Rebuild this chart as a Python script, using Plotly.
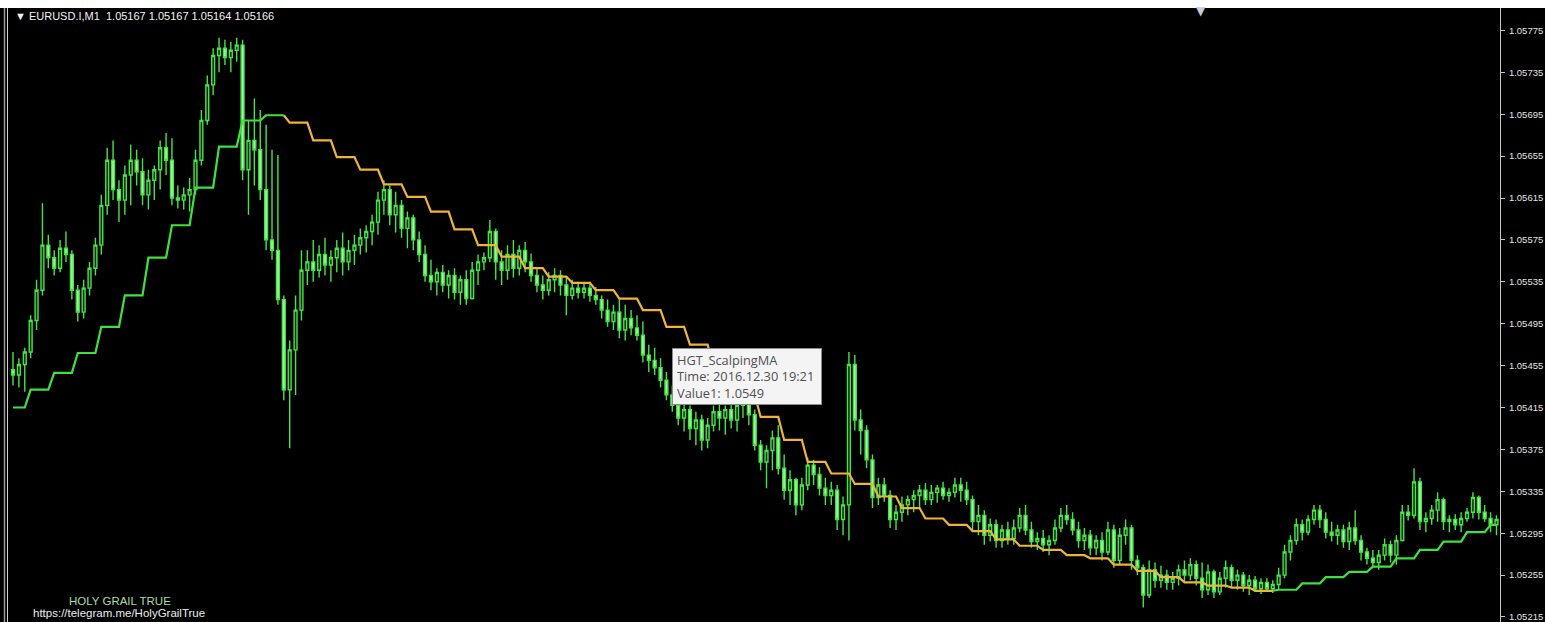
import plotly.graph_objects as go

# ---------------- text ----------------
symbol_header = "\u25BC EURUSD.I,M1\u00a0\u00a01.05167 1.05167 1.05164 1.05166"
tooltip_lines = ["HGT_ScalpingMA", "Time: 2016.12.30 19:21", "Value1: 1.0549"]
brand_text = "HOLY GRAIL TRUE"
link_text = "https://telegram.me/HolyGrailTrue"

# ---------------- M1 bars (EURUSD) ----------------
open_ = [
    1.05451, 1.05446, 1.05456, 1.05468, 1.05498, 1.05527, 1.05570, 1.05558, 1.05548, 1.05567,
    1.05561, 1.05527, 1.05506, 1.05529, 1.05548, 1.05570, 1.05608, 1.05651, 1.05623, 1.05613,
    1.05637, 1.05651, 1.05640, 1.05618, 1.05632, 1.05642, 1.05663, 1.05651, 1.05615, 1.05613,
    1.05618, 1.05623, 1.05651, 1.05689, 1.05723, 1.05751, 1.05758, 1.05749, 1.05756, 1.05761,
    1.05642, 1.05670, 1.05661, 1.05623, 1.05575, 1.05565, 1.05518, 1.05432, 1.05470, 1.05508,
    1.05546, 1.05554, 1.05546, 1.05561, 1.05551, 1.05558, 1.05567, 1.05554, 1.05565, 1.05570,
    1.05577, 1.05583, 1.05592, 1.05613, 1.05623, 1.05599, 1.05608, 1.05586, 1.05596, 1.05575,
    1.05561, 1.05541, 1.05535, 1.05544, 1.05532, 1.05541, 1.05525, 1.05537, 1.05519, 1.05546,
    1.05554, 1.05558, 1.05583, 1.05554, 1.05546, 1.05561, 1.05548, 1.05565, 1.05554, 1.05541,
    1.05532, 1.05527, 1.05537, 1.05541, 1.05532, 1.05522, 1.05529, 1.05525, 1.05529, 1.05522,
    1.05518, 1.05508, 1.05497, 1.05506, 1.05489, 1.05500, 1.05491, 1.05484, 1.05465, 1.05460,
    1.05453, 1.05441, 1.05427, 1.05417, 1.05405, 1.05413, 1.05395, 1.05403, 1.05384, 1.05398,
    1.05411, 1.05405, 1.05413, 1.05403, 1.05417, 1.05422, 1.05408, 1.05379, 1.05363, 1.05374,
    1.05386, 1.05357, 1.05336, 1.05346, 1.05322, 1.05341, 1.05360, 1.05351, 1.05338, 1.05331,
    1.05336, 1.05308, 1.05322, 1.05456, 1.05403, 1.05393, 1.05365, 1.05329, 1.05341, 1.05331,
    1.05308, 1.05315, 1.05322, 1.05327, 1.05331, 1.05336, 1.05327, 1.05334, 1.05338, 1.05331,
    1.05334, 1.05341, 1.05336, 1.05327, 1.05306, 1.05312, 1.05293, 1.05303, 1.05288, 1.05298,
    1.05290, 1.05300, 1.05312, 1.05298, 1.05287, 1.05290, 1.05284, 1.05288, 1.05300, 1.05312,
    1.05308, 1.05298, 1.05288, 1.05293, 1.05281, 1.05288, 1.05277, 1.05298, 1.05269, 1.05293,
    1.05300, 1.05269, 1.05262, 1.05236, 1.05260, 1.05250, 1.05255, 1.05248, 1.05252, 1.05260,
    1.05255, 1.05265, 1.05252, 1.05241, 1.05258, 1.05239, 1.05252, 1.05262, 1.05250, 1.05255,
    1.05245, 1.05250, 1.05242, 1.05248, 1.05242, 1.05246, 1.05255, 1.05277, 1.05288, 1.05303,
    1.05296, 1.05308, 1.05317, 1.05308, 1.05296, 1.05293, 1.05298, 1.05287, 1.05300, 1.05288,
    1.05277, 1.05271, 1.05267, 1.05274, 1.05284, 1.05274, 1.05288, 1.05315, 1.05312, 1.05344,
    1.05306, 1.05309, 1.05317, 1.05327, 1.05306, 1.05308, 1.05303, 1.05309, 1.05315, 1.05329,
    1.05315, 1.05309, 1.05303,
]
high = [
    1.05468, 1.05462, 1.05472, 1.05503, 1.05537, 1.05610, 1.05580, 1.05565, 1.05575, 1.05583,
    1.05565, 1.05532, 1.05537, 1.05554, 1.05577, 1.05618, 1.05663, 1.05670, 1.05632, 1.05646,
    1.05666, 1.05661, 1.05653, 1.05642, 1.05646, 1.05670, 1.05677, 1.05672, 1.05627, 1.05625,
    1.05634, 1.05661, 1.05699, 1.05732, 1.05758, 1.05768, 1.05766, 1.05764, 1.05768, 1.05766,
    1.05689, 1.05710, 1.05699, 1.05685, 1.05661, 1.05656, 1.05522, 1.05479, 1.05522, 1.05565,
    1.05565, 1.05575, 1.05570, 1.05577, 1.05565, 1.05575, 1.05582, 1.05575, 1.05580, 1.05586,
    1.05589, 1.05599, 1.05621, 1.05632, 1.05627, 1.05621, 1.05613, 1.05602, 1.05599, 1.05583,
    1.05570, 1.05556, 1.05548, 1.05551, 1.05546, 1.05548, 1.05541, 1.05546, 1.05554, 1.05561,
    1.05563, 1.05594, 1.05586, 1.05565, 1.05570, 1.05575, 1.05570, 1.05573, 1.05562, 1.05548,
    1.05541, 1.05544, 1.05548, 1.05546, 1.05539, 1.05537, 1.05535, 1.05534, 1.05535, 1.05530,
    1.05522, 1.05518, 1.05513, 1.05518, 1.05513, 1.05508, 1.05503, 1.05497, 1.05475, 1.05472,
    1.05462, 1.05449, 1.05436, 1.05424, 1.05420, 1.05417, 1.05411, 1.05408, 1.05405, 1.05417,
    1.05422, 1.05417, 1.05424, 1.05422, 1.05430, 1.05432, 1.05413, 1.05384, 1.05379, 1.05393,
    1.05398, 1.05370, 1.05355, 1.05348, 1.05348, 1.05367, 1.05365, 1.05358, 1.05348, 1.05344,
    1.05341, 1.05330, 1.05468, 1.05465, 1.05413, 1.05398, 1.05370, 1.05348, 1.05348, 1.05336,
    1.05322, 1.05330, 1.05331, 1.05336, 1.05341, 1.05343, 1.05341, 1.05341, 1.05344, 1.05338,
    1.05348, 1.05348, 1.05344, 1.05331, 1.05322, 1.05317, 1.05309, 1.05308, 1.05303, 1.05306,
    1.05308, 1.05319, 1.05322, 1.05306, 1.05296, 1.05298, 1.05293, 1.05308, 1.05319, 1.05322,
    1.05315, 1.05306, 1.05300, 1.05298, 1.05293, 1.05296, 1.05306, 1.05303, 1.05300, 1.05308,
    1.05303, 1.05274, 1.05265, 1.05269, 1.05267, 1.05264, 1.05260, 1.05258, 1.05265, 1.05269,
    1.05271, 1.05269, 1.05267, 1.05265, 1.05260, 1.05258, 1.05269, 1.05265, 1.05260, 1.05258,
    1.05255, 1.05254, 1.05252, 1.05252, 1.05250, 1.05262, 1.05284, 1.05293, 1.05309, 1.05308,
    1.05312, 1.05322, 1.05322, 1.05315, 1.05306, 1.05303, 1.05303, 1.05306, 1.05317, 1.05293,
    1.05281, 1.05279, 1.05279, 1.05290, 1.05288, 1.05293, 1.05322, 1.05322, 1.05357, 1.05348,
    1.05315, 1.05322, 1.05334, 1.05329, 1.05312, 1.05313, 1.05315, 1.05319, 1.05334, 1.05331,
    1.05322, 1.05315, 1.05312,
]
low = [
    1.05436, 1.05434, 1.05430, 1.05462, 1.05489, 1.05522, 1.05548, 1.05541, 1.05544, 1.05554,
    1.05518, 1.05497, 1.05500, 1.05522, 1.05541, 1.05561, 1.05599, 1.05613, 1.05592, 1.05599,
    1.05608, 1.05627, 1.05608, 1.05604, 1.05613, 1.05623, 1.05637, 1.05608, 1.05605, 1.05604,
    1.05602, 1.05618, 1.05646, 1.05685, 1.05713, 1.05735, 1.05742, 1.05735, 1.05745, 1.05632,
    1.05599, 1.05627, 1.05613, 1.05565, 1.05556, 1.05513, 1.05422, 1.05376, 1.05427, 1.05498,
    1.05532, 1.05535, 1.05539, 1.05541, 1.05535, 1.05544, 1.05541, 1.05546, 1.05551, 1.05561,
    1.05563, 1.05570, 1.05580, 1.05599, 1.05589, 1.05582, 1.05577, 1.05567, 1.05565, 1.05554,
    1.05535, 1.05527, 1.05522, 1.05525, 1.05519, 1.05518, 1.05513, 1.05513, 1.05518, 1.05532,
    1.05546, 1.05554, 1.05537, 1.05532, 1.05537, 1.05539, 1.05541, 1.05544, 1.05535, 1.05525,
    1.05518, 1.05522, 1.05525, 1.05522, 1.05503, 1.05518, 1.05519, 1.05519, 1.05516, 1.05513,
    1.05500, 1.05492, 1.05489, 1.05481, 1.05479, 1.05484, 1.05479, 1.05458, 1.05449, 1.05446,
    1.05434, 1.05422, 1.05411, 1.05398, 1.05392, 1.05384, 1.05379, 1.05374, 1.05376, 1.05392,
    1.05393, 1.05389, 1.05395, 1.05392, 1.05405, 1.05398, 1.05374, 1.05355, 1.05338, 1.05355,
    1.05351, 1.05327, 1.05322, 1.05312, 1.05317, 1.05336, 1.05341, 1.05331, 1.05322, 1.05322,
    1.05298, 1.05293, 1.05288, 1.05393, 1.05370, 1.05357, 1.05319, 1.05322, 1.05325, 1.05300,
    1.05298, 1.05306, 1.05312, 1.05315, 1.05319, 1.05322, 1.05322, 1.05324, 1.05327, 1.05325,
    1.05329, 1.05325, 1.05322, 1.05298, 1.05293, 1.05284, 1.05287, 1.05281, 1.05281, 1.05284,
    1.05284, 1.05296, 1.05293, 1.05281, 1.05279, 1.05277, 1.05274, 1.05284, 1.05296, 1.05303,
    1.05293, 1.05281, 1.05279, 1.05274, 1.05274, 1.05269, 1.05274, 1.05262, 1.05265, 1.05284,
    1.05260, 1.05255, 1.05224, 1.05233, 1.05243, 1.05243, 1.05241, 1.05241, 1.05245, 1.05248,
    1.05250, 1.05245, 1.05233, 1.05236, 1.05233, 1.05236, 1.05243, 1.05243, 1.05241, 1.05239,
    1.05236, 1.05239, 1.05237, 1.05239, 1.05238, 1.05241, 1.05252, 1.05269, 1.05284, 1.05288,
    1.05293, 1.05303, 1.05300, 1.05290, 1.05287, 1.05284, 1.05281, 1.05279, 1.05284, 1.05269,
    1.05265, 1.05262, 1.05260, 1.05269, 1.05267, 1.05265, 1.05287, 1.05307, 1.05309, 1.05298,
    1.05296, 1.05303, 1.05306, 1.05298, 1.05296, 1.05298, 1.05296, 1.05306, 1.05309, 1.05308,
    1.05306, 1.05296, 1.05293,
]
close = [
    1.05446, 1.05456, 1.05468, 1.05498, 1.05527, 1.05570, 1.05558, 1.05548, 1.05567, 1.05561,
    1.05527, 1.05506, 1.05529, 1.05548, 1.05570, 1.05608, 1.05651, 1.05623, 1.05613, 1.05637,
    1.05651, 1.05640, 1.05618, 1.05632, 1.05642, 1.05663, 1.05651, 1.05615, 1.05613, 1.05618,
    1.05623, 1.05651, 1.05689, 1.05723, 1.05751, 1.05758, 1.05749, 1.05756, 1.05761, 1.05642,
    1.05670, 1.05661, 1.05623, 1.05575, 1.05565, 1.05518, 1.05432, 1.05470, 1.05508, 1.05546,
    1.05554, 1.05546, 1.05561, 1.05551, 1.05558, 1.05567, 1.05554, 1.05565, 1.05570, 1.05577,
    1.05583, 1.05592, 1.05613, 1.05623, 1.05599, 1.05608, 1.05586, 1.05596, 1.05575, 1.05561,
    1.05541, 1.05535, 1.05544, 1.05532, 1.05541, 1.05525, 1.05537, 1.05519, 1.05546, 1.05554,
    1.05558, 1.05583, 1.05554, 1.05546, 1.05561, 1.05548, 1.05565, 1.05554, 1.05541, 1.05532,
    1.05527, 1.05537, 1.05541, 1.05532, 1.05522, 1.05529, 1.05525, 1.05529, 1.05522, 1.05518,
    1.05508, 1.05497, 1.05506, 1.05489, 1.05500, 1.05491, 1.05484, 1.05465, 1.05460, 1.05453,
    1.05441, 1.05427, 1.05417, 1.05405, 1.05413, 1.05395, 1.05403, 1.05384, 1.05398, 1.05411,
    1.05405, 1.05413, 1.05403, 1.05417, 1.05422, 1.05408, 1.05379, 1.05363, 1.05374, 1.05386,
    1.05357, 1.05336, 1.05346, 1.05322, 1.05341, 1.05360, 1.05351, 1.05338, 1.05331, 1.05336,
    1.05308, 1.05322, 1.05456, 1.05403, 1.05393, 1.05365, 1.05329, 1.05341, 1.05331, 1.05308,
    1.05315, 1.05322, 1.05327, 1.05331, 1.05336, 1.05327, 1.05334, 1.05338, 1.05331, 1.05334,
    1.05341, 1.05336, 1.05327, 1.05306, 1.05312, 1.05293, 1.05303, 1.05288, 1.05298, 1.05290,
    1.05300, 1.05312, 1.05298, 1.05287, 1.05290, 1.05284, 1.05288, 1.05300, 1.05312, 1.05308,
    1.05298, 1.05288, 1.05293, 1.05281, 1.05288, 1.05277, 1.05298, 1.05269, 1.05293, 1.05300,
    1.05269, 1.05262, 1.05236, 1.05260, 1.05250, 1.05255, 1.05248, 1.05252, 1.05260, 1.05255,
    1.05265, 1.05252, 1.05241, 1.05258, 1.05239, 1.05252, 1.05262, 1.05250, 1.05255, 1.05245,
    1.05250, 1.05242, 1.05248, 1.05242, 1.05246, 1.05255, 1.05277, 1.05288, 1.05303, 1.05296,
    1.05308, 1.05317, 1.05308, 1.05296, 1.05293, 1.05298, 1.05287, 1.05300, 1.05288, 1.05277,
    1.05271, 1.05267, 1.05274, 1.05284, 1.05274, 1.05288, 1.05315, 1.05312, 1.05344, 1.05306,
    1.05309, 1.05317, 1.05327, 1.05306, 1.05308, 1.05303, 1.05309, 1.05315, 1.05329, 1.05315,
    1.05309, 1.05303, 1.05308,
]

# HGT_ScalpingMA: one value per higher-timeframe period (each spans 4 M1 bars here)
ma_steps = [
    1.05415, 1.05432, 1.05448, 1.05467, 1.05492, 1.05522, 1.05558, 1.05589, 1.05625, 1.05664,
    1.05689, 1.05694, 1.05687, 1.05670, 1.05654, 1.05642, 1.05628, 1.05616, 1.05602, 1.05585,
    1.05570, 1.05559, 1.05548, 1.05540, 1.05534, 1.05527, 1.05519, 1.05508, 1.05492, 1.05475,
    1.05454, 1.05427, 1.05406, 1.05384, 1.05363, 1.05352, 1.05342, 1.05330, 1.05319, 1.05309,
    1.05303, 1.05297, 1.05289, 1.05283, 1.05279, 1.05274, 1.05271, 1.05265, 1.05259, 1.05253,
    1.05248, 1.05245, 1.05243, 1.05240, 1.05241, 1.05247, 1.05253, 1.05258, 1.05263, 1.05271,
    1.05279, 1.05287, 1.05296, 1.05303,
]
bars_per_step = 4

tick_values = [1.05215, 1.05255, 1.05295, 1.05335, 1.05375, 1.05415, 1.05455, 1.05495,
               1.05535, 1.05575, 1.05615, 1.05655, 1.05695, 1.05735, 1.05775]
tick_labels = ["1.05215", "1.05255", "1.05295", "1.05335", "1.05375", "1.05415", "1.05455",
               "1.05495", "1.05535", "1.05575", "1.05615", "1.05655", "1.05695", "1.05735",
               "1.05775"]

# ---------------- geometry helpers ----------------
W, H = 1545, 622
ML, MR, MT, MB = 9, 45, 8, 0
PW, PH = W - ML - MR, H - MT - MB


def px_x(px):
    return (px - ML) / PW


def px_y(py):
    return 1 - (py - MT) / PH


n = len(close)
bar_x = list(range(n))

# expand MA steps onto bars, colour by direction
ma_bar = [ma_steps[(i + 1) // bars_per_step] for i in range(n)]
step_dir = []
for k, v in enumerate(ma_steps):
    if k == 0 or v > ma_steps[k - 1]:
        d = 1
    elif v < ma_steps[k - 1]:
        d = -1
    else:
        d = step_dir[-1]
    step_dir.append(d)
bar_dir = [step_dir[(i + 1) // bars_per_step] for i in range(n)]
up_y = [ma_bar[i] if (bar_dir[i] == 1 or (i + 1 < n and bar_dir[i + 1] == 1)) else None
        for i in range(n)]
dn_y = [ma_bar[i] if (bar_dir[i] == -1 or (i + 1 < n and bar_dir[i + 1] == -1)) else None
        for i in range(n)]

GREEN = "#46e446"
fig = go.Figure()
fig.add_trace(go.Candlestick(
    x=bar_x, open=open_, high=high, low=low, close=close,
    increasing=dict(line=dict(color=GREEN, width=1.4), fillcolor="#0b2a0b"),
    decreasing=dict(line=dict(color=GREEN, width=1.4), fillcolor="#a8f4a8"),
    whiskerwidth=0, hoverinfo="skip", showlegend=False,
))
fig.add_trace(go.Scatter(x=bar_x, y=dn_y, mode="lines", connectgaps=False,
                         line=dict(color="#f0b43c", width=2.2), hoverinfo="skip",
                         showlegend=False))
fig.add_trace(go.Scatter(x=bar_x, y=up_y, mode="lines", connectgaps=False,
                         line=dict(color="#3ee23e", width=2.2), hoverinfo="skip",
                         showlegend=False))

shapes = [
    # white strip along the top
    dict(type="rect", xref="paper", yref="paper", x0=px_x(-5), x1=px_x(W + 5),
         y0=px_y(MT), y1=px_y(-5), fillcolor="#ffffff", line=dict(width=0), layer="above"),
    # window border on the left
    dict(type="line", xref="paper", yref="paper", x0=px_x(4.5), x1=px_x(4.5),
         y0=0, y1=1, line=dict(color="#9a9a9a", width=1.5), layer="above"),
    dict(type="line", xref="paper", yref="paper", x0=px_x(7.5), x1=px_x(7.5),
         y0=0, y1=1, line=dict(color="#d0d0d0", width=1), layer="above"),
]

annotations = [
    dict(text=symbol_header, xref="paper", yref="paper", x=px_x(13), y=px_y(16),
         xanchor="left", yanchor="middle", showarrow=False,
         font=dict(family="Liberation Sans", size=11, color="#f2f2f2")),
    dict(text="\u25BC", xref="paper", yref="paper", x=px_x(1201), y=px_y(11),
         xanchor="center", yanchor="middle", showarrow=False,
         font=dict(family="DejaVu Sans", size=12, color="#c6ced8")),
    dict(text="<br>".join(tooltip_lines), xref="paper", yref="paper",
         x=px_x(672), y=px_y(348), xanchor="left", yanchor="top", showarrow=False,
         align="left", valign="middle", width=140, height=47, borderpad=4,
         bgcolor="#f4f4f4", bordercolor="#8c8c8c", borderwidth=1,
         font=dict(family="Open Sans", size=12.8, color="#505050")),
    dict(text=brand_text, xref="paper", yref="paper", x=px_x(120), y=px_y(601),
         xanchor="center", yanchor="middle", showarrow=False,
         font=dict(family="Liberation Sans", size=11.5, color="#a6dca6")),
    dict(text=link_text, xref="paper", yref="paper", x=px_x(119), y=px_y(613),
         xanchor="center", yanchor="middle", showarrow=False,
         font=dict(family="Liberation Sans", size=11.5, color="#ececec")),
]

fig.update_layout(
    width=W, height=H,
    margin=dict(l=ML, r=MR, t=MT, b=MB, pad=0),
    paper_bgcolor="#000000", plot_bgcolor="#000000",
    showlegend=False, hovermode=False,
    shapes=shapes, annotations=annotations,
    xaxis=dict(range=[-0.68, 252.6], visible=False, rangeslider=dict(visible=False),
               showgrid=False, zeroline=False, fixedrange=True),
    yaxis=dict(side="right", range=[1.052102, 1.057964], tickvals=tick_values,
               ticktext=tick_labels, showgrid=False, zeroline=False,
               showline=True, linecolor="#c8c8c8", linewidth=1,
               ticks="outside", ticklen=4, tickcolor="#c8c8c8",
               tickfont=dict(family="Liberation Sans", size=9.5, color="#e4e4e4"),
               ticklabelstandoff=2, ticklabeloverflow="allow", fixedrange=True),
)

fig.write_html(
    "out.html",
    config={"displayModeBar": False},
    post_script=("document.body.style.margin='0';"
                 "document.body.style.padding='0';"
                 "document.body.style.overflow='hidden';"
                 "document.body.style.background='#000000';"),
)
